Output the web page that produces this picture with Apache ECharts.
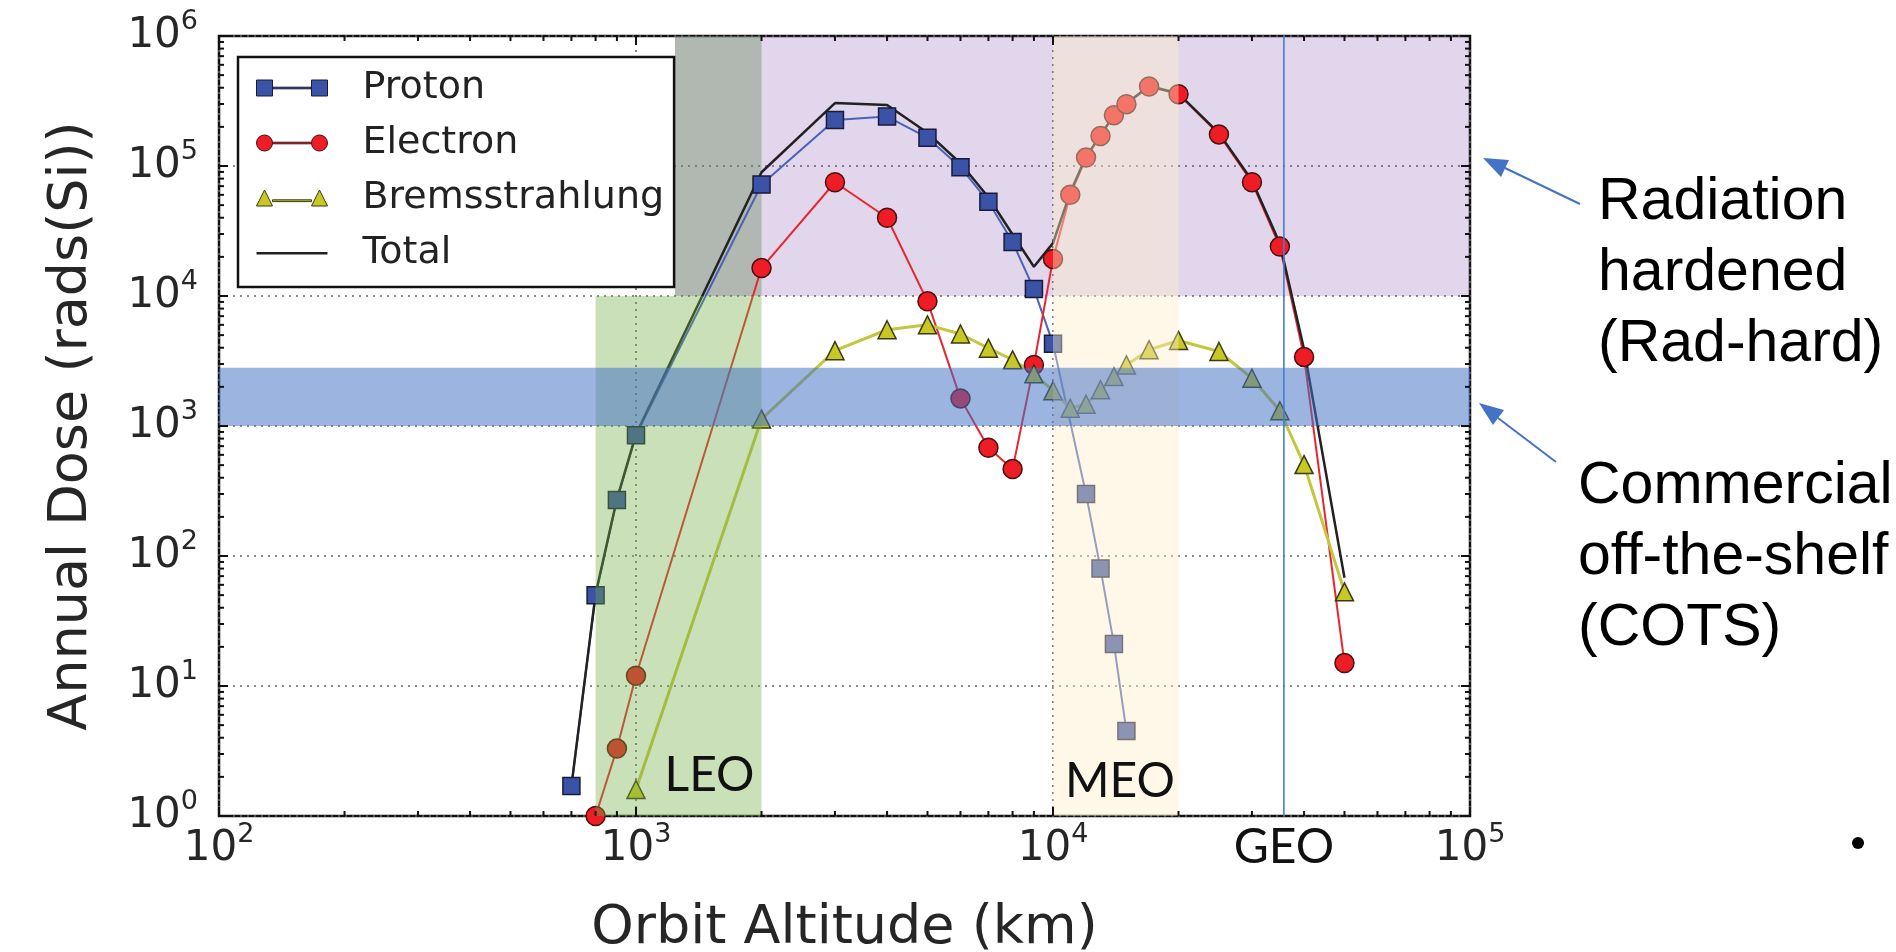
<!DOCTYPE html>
<html><head><meta charset="utf-8">
<script src="https://cdn.jsdelivr.net/npm/echarts@6/dist/echarts.min.js"></script>
<style>html,body{margin:0;padding:0;background:#fff;overflow:hidden} #c{width:1896px;height:952px;}</style>
</head><body><div id="c"></div>
<script>
// ---- data ----
const xProton = [700, 800, 900, 1000, 2000, 3000, 4000, 5000, 6000, 7000, 8000, 9000, 10000, 12000, 13000, 14000, 15000];
const proton = [1.7, 50, 270, 850, 72000, 226000, 240000, 165000, 98000, 53000, 26000, 11300, 4300, 300, 80, 21, 4.5];
const xElectron = [800, 900, 1000, 2000, 3000, 4000, 5000, 6000, 7000, 8000, 9000, 10000, 11000, 12000, 13000, 14000, 15000, 17000, 20000, 25000, 30000, 35000, 40000, 50000];
const electron = [1.0, 3.3, 12, 16400, 75000, 40000, 9100, 1630, 680, 466, 2950, 19300, 60000, 116000, 170000, 246000, 299000, 409000, 357000, 175000, 75000, 24000, 3400, 15];
const xBrems = [1000, 2000, 3000, 4000, 5000, 6000, 7000, 8000, 9000, 10000, 11000, 12000, 13000, 14000, 15000, 17000, 20000, 25000, 30000, 35000, 40000, 50000];
const brems = [1.6, 1130, 3800, 5500, 6000, 5100, 3970, 3230, 2520, 1870, 1370, 1470, 1900, 2400, 2950, 3860, 4550, 3740, 2330, 1310, 505, 53];
const xTotal = [700, 800, 900, 1000, 2000, 3000, 4000, 5000, 6000, 7000, 8000, 9000, 10000, 11000, 12000, 13000, 14000, 15000, 17000, 20000, 25000, 30000, 35000, 40000, 50000];
const total = [1.7, 51, 274, 865, 89500, 305000, 295000, 180000, 105000, 57500, 29700, 16800, 25500, 62600, 118000, 172000, 248000, 302000, 413000, 361000, 179000, 77300, 25300, 3900, 68];

// shaded regions [x0, x1, y0, y1] in data units
const regionNames = ['Rad-hard', 'LEO (upper)', 'LEO', 'MEO', 'COTS'];
const regionX0 = [1240, 1240, 800, 10000, 100];
const regionX1 = [100000, 2000, 2000, 20000, 100000];
const regionY0 = [10000, 10000, 1, 1, 1000];
const regionY1 = [1000000, 1000000, 10000, 1000000, 2800];

const orbitLabels = ['LEO', 'MEO', 'GEO'];
const orbitAlt = [2000, 10000, 35786];
const geoAlt = 35786;

const xMajorTicks = [100, 1000, 10000, 100000];
const yMajorTicks = [1, 10, 100, 1000, 10000, 100000, 1000000];
const minorMult = [2, 3, 4, 5, 6, 7, 8, 9];

// ---- helpers ----
const zip = (xs, ys) => xs.map((x, i) => [x, ys[i]]);
const xMinorTicks = [], yMinorTicks = [];
xMajorTicks.slice(0, -1).forEach(d => minorMult.forEach(m => xMinorTicks.push(d * m)));
yMajorTicks.slice(0, -1).forEach(d => minorMult.forEach(m => yMinorTicks.push(d * m)));

const regionColor = {
  'Rad-hard': 'rgba(112,48,160,0.2)',
  'LEO (upper)': 'rgba(110,140,95,0.42)',
  'LEO': 'rgba(112,173,71,0.38)',
  'MEO': 'rgba(255,238,200,0.42)',
  'COTS': 'rgba(68,114,196,0.53)'
};
function regionData(names) {
  return names.map(n => regionNames.indexOf(n)).map(i => [regionX0[i], regionY0[i], regionX1[i], regionY1[i]]);
}
function regionSeries(names, z) {
  return {
    type: 'custom', z: z, silent: true, clip: true,
    data: regionData(names),
    renderItem: function (params, api) {
      const p0 = api.coord([api.value(0), api.value(1)]);
      const p1 = api.coord([api.value(2), api.value(3)]);
      return { type: 'rect',
        shape: { x: Math.min(p0[0], p1[0]), y: Math.min(p0[1], p1[1]), width: Math.abs(p1[0] - p0[0]), height: Math.abs(p1[1] - p0[1]) },
        style: { fill: regionColor[names[params.dataIndex]] } };
    }
  };
}
function tickSeries(values, isY, len) {
  return {
    type: 'custom', z: 12, silent: true, clip: false,
    data: values.map(v => isY ? [100, v] : [v, 1]),
    renderItem: function (params, api) {
      const cs = params.coordSys;
      const st = { stroke: '#111', lineWidth: 2 };
      if (!isY) {
        const px = api.coord([api.value(0), 1])[0];
        return { type: 'group', children: [
          { type: 'line', shape: { x1: px, y1: cs.y + cs.height, x2: px, y2: cs.y + cs.height - len }, style: st },
          { type: 'line', shape: { x1: px, y1: cs.y, x2: px, y2: cs.y + len }, style: st } ] };
      } else {
        const py = api.coord([100, api.value(1)])[1];
        return { type: 'group', children: [
          { type: 'line', shape: { x1: cs.x, y1: py, x2: cs.x + len, y2: py }, style: st },
          { type: 'line', shape: { x1: cs.x + cs.width, y1: py, x2: cs.x + cs.width - len, y2: py }, style: st } ] };
      }
    }
  };
}

const FONT = 'DejaVu Sans';
const supRich = {
  m: { fontFamily: FONT, fontSize: 42, color: '#262626', lineHeight: 56 },
  s: { fontFamily: FONT, fontSize: 27, color: '#262626', lineHeight: 27, verticalAlign: 'top' }
};
const powLabel = v => '{m|10}{s|' + Math.round(Math.log10(v)) + '}';

// legend icons in the matplotlib style: marker - line - marker
const iconProton = 'path://M0,0 L16,0 L16,16 L0,16 Z M16,7.2 L55,7.2 L55,8.8 L16,8.8 Z M55,0 L71,0 L71,16 L55,16 Z';
const iconElectron = 'path://M0,8 A8,8 0 1 1 16,8 A8,8 0 1 1 0,8 Z M16,7.2 L55,7.2 L55,8.8 L16,8.8 Z M55,8 A8,8 0 1 1 71,8 A8,8 0 1 1 55,8 Z';
const iconBrems = 'path://M8,0 L16,16 L0,16 Z M16,9.8 L55,9.8 L55,11.6 L16,11.6 Z M63,0 L71,16 L55,16 Z';
const iconTotal = 'path://M0,0 M0,7 L71,7 L71,9.5 L0,9.5 Z M71,16';

const chart = echarts.init(document.getElementById('c'));
chart.setOption({
  animation: false,
  backgroundColor: '#fff',
  grid: { left: 219, right: 426, top: 36, bottom: 136, show: true, borderColor: '#111', borderWidth: 2.5,
    backgroundColor: 'transparent', containLabel: false, outerBoundsMode: 'none' },
  legend: {
    data: [
      { name: 'Proton', icon: iconProton, itemStyle: { borderWidth: 1 } },
      { name: 'Electron', icon: iconElectron, itemStyle: { borderWidth: 1 } },
      { name: 'Bremsstrahlung', icon: iconBrems, itemStyle: { borderWidth: 1 } },
      { name: 'Total', icon: iconTotal, itemStyle: { borderWidth: 0 } }
    ],
    orient: 'vertical', left: 238, top: 57,
    backgroundColor: '#fff', borderColor: '#111', borderWidth: 2.5, borderRadius: 0,
    padding: [9, 10, 12, 18], itemGap: 11, itemWidth: 71, itemHeight: 16,
    textStyle: { fontFamily: FONT, fontSize: 38, color: '#222', padding: [0, 0, 0, 30], lineHeight: 44 },
    selectedMode: false, z: 20
  },
  xAxis: {
    type: 'log', logBase: 10, min: 100, max: 100000, splitNumber: 3,
    axisLine: { show: false }, axisTick: { show: false },
    axisLabel: { formatter: powLabel, rich: supRich, margin: 5 },
    splitLine: { show: true, lineStyle: { color: '#666', type: [2, 5], width: 1.6 } },
    name: 'Orbit Altitude (km)', nameLocation: 'middle', nameGap: 86,
    nameTextStyle: { fontFamily: FONT, fontSize: 54, color: '#262626' }
  },
  yAxis: {
    type: 'log', logBase: 10, min: 1, max: 1000000, splitNumber: 6,
    axisLine: { show: false }, axisTick: { show: false },
    axisLabel: { formatter: powLabel, rich: supRich, margin: 21 },
    splitLine: { show: true, lineStyle: { color: '#666', type: [2, 5], width: 1.6 } },
    name: 'Annual Dose (rads(Si))', nameLocation: 'middle', nameGap: 120, nameRotate: 90,
    nameTextStyle: { fontFamily: FONT, fontSize: 54, color: '#262626' }
  },
  series: [
    regionSeries(['Rad-hard', 'LEO (upper)'], 1),
    { name: 'Proton', type: 'line', data: zip(xProton, proton), symbol: 'rect', symbolSize: 17, z: 3,
      lineStyle: { color: '#4a62b8', width: 2 }, itemStyle: { color: '#3a53a6', borderColor: '#1a1a3a', borderWidth: 1.5 } },
    { name: 'Electron', type: 'line', data: zip(xElectron, electron), symbol: 'circle', symbolSize: 19, z: 3,
      lineStyle: { color: '#e8262e', width: 2 }, itemStyle: { color: '#ee1c25', borderColor: '#4a1010', borderWidth: 1.5 } },
    { name: 'Bremsstrahlung', type: 'line', data: zip(xBrems, brems), symbol: 'triangle', symbolSize: 18, z: 3,
      lineStyle: { color: '#c4c63e', width: 3 }, itemStyle: { color: '#c8c824', borderColor: '#3a3a10', borderWidth: 1.5 } },
    { name: 'Total', type: 'line', data: zip(xTotal, total), symbol: 'none', z: 3,
      lineStyle: { color: '#222', width: 2.5 }, itemStyle: { color: '#222' } },
    regionSeries(['LEO', 'MEO', 'COTS'], 10),
    { type: 'custom', z: 11, silent: true, clip: false, data: [[geoAlt, 1]],
      renderItem: function (params, api) {
        const p0 = api.coord([api.value(0), 1]);
        const p1 = api.coord([api.value(0), 1000000]);
        return { type: 'line', shape: { x1: p0[0], y1: p0[1], x2: p1[0], y2: p1[1] }, style: { stroke: '#4a7ad0', lineWidth: 1.6 } };
      } },
    { type: 'custom', z: 13, silent: true, clip: false, data: orbitAlt.map(a => [a, 1]),
      renderItem: function (params, api) {
        const p = api.coord([api.value(0), 1]);
        const name = orbitLabels[params.dataIndex];
        const base = { text: name, fontFamily: 'Lato', fontSize: 48, fill: '#111', verticalAlign: 'middle' };
        if (name === 'LEO') return { type: 'text', x: p[0] - 7, y: p[1] - 40, style: Object.assign({}, base, { align: 'right' }) };
        if (name === 'MEO') return { type: 'text', x: p[0] + 12, y: p[1] - 34, style: Object.assign({}, base, { align: 'left' }) };
        return { type: 'text', x: p[0], y: p[1] + 32, style: Object.assign({}, base, { align: 'center' }) };
      } },
    tickSeries(xMinorTicks, false, 5),
    tickSeries(yMinorTicks, true, 5),
    tickSeries(xMajorTicks, false, 9),
    tickSeries(yMajorTicks, true, 9)
  ],
  graphic: [
    { type: 'line', shape: { x1: 1580, y1: 204, x2: 1505, y2: 168 }, style: { stroke: '#4472c4', lineWidth: 2 } },
    { type: 'polygon', shape: { points: [[1483, 158], [1509, 160], [1501, 177]] }, style: { fill: '#4472c4' } },
    { type: 'line', shape: { x1: 1556, y1: 462, x2: 1498, y2: 418 }, style: { stroke: '#4472c4', lineWidth: 2 } },
    { type: 'polygon', shape: { points: [[1479, 403], [1504, 410], [1493, 425]] }, style: { fill: '#4472c4' } },
    { type: 'text', x: 1598, y: 167, style: { text: 'Radiation\nhardened\n(Rad-hard)', fontFamily: 'Liberation Sans', fontSize: 59, lineHeight: 71, fill: '#000', align: 'left', verticalAlign: 'top' } },
    { type: 'text', x: 1578, y: 451, style: { text: 'Commercial\noff-the-shelf\n(COTS)', fontFamily: 'Liberation Sans', fontSize: 59, lineHeight: 71, fill: '#000', align: 'left', verticalAlign: 'top' } },
    { type: 'circle', shape: { cx: 1858, cy: 843, r: 6 }, style: { fill: '#000' } }
  ]
});
</script>
</body></html>
